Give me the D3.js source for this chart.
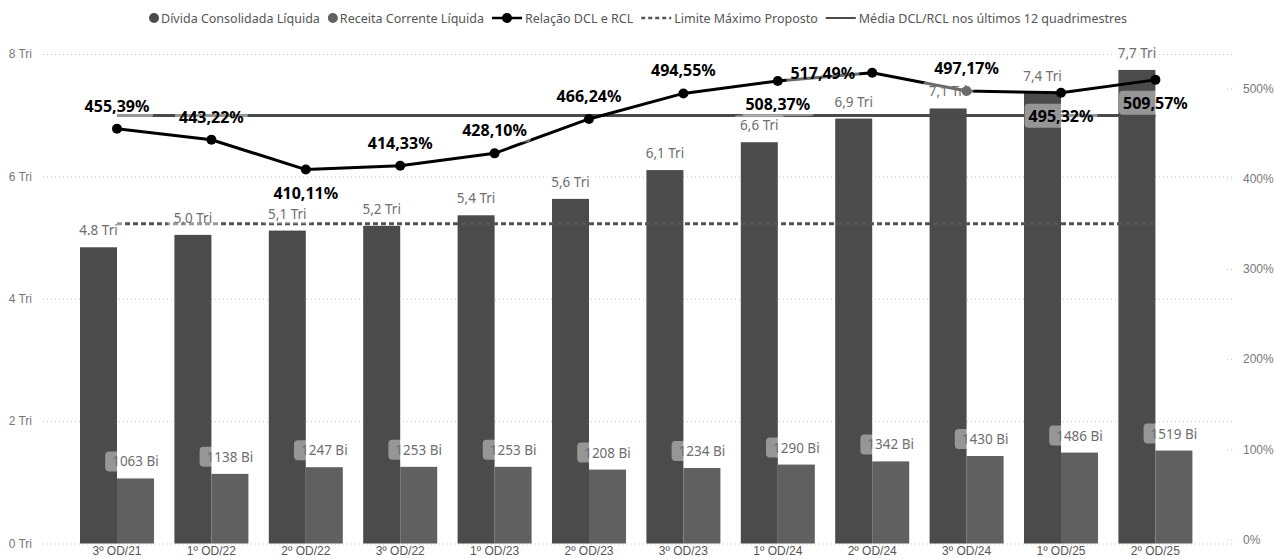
<!DOCTYPE html>
<html>
<head>
<meta charset="utf-8">
<script src="https://cdn.jsdelivr.net/npm/d3@7"></script>
<style>
  html, body { margin: 0; padding: 0; background: #fff; }
  svg { display: block; font-family: "Segoe UI", "Noto Sans", "Open Sans", sans-serif; }
</style>
</head>
<body>
<svg id="chart" width="1275" height="559"></svg>
<script>
// Quadrimesters
const categories = ["3º OD/21", "1º OD/22", "2º OD/22", "3º OD/22", "1º OD/23", "2º OD/23",
                    "3º OD/23", "1º OD/24", "2º OD/24", "3º OD/24", "1º OD/25", "2º OD/25"];
// Dívida Consolidada Líquida (R$ bilhões)
const dclBi = [4841, 5044, 5114, 5192, 5364, 5632, 6103, 6558, 6945, 7110, 7361, 7740];
const dclLabels = ["4.8 Tri", "5,0 Tri", "5,1 Tri", "5,2 Tri", "5,4 Tri", "5,6 Tri",
                   "6,1 Tri", "6,6 Tri", "6,9 Tri", "7,1 Tri", "7,4 Tri", "7,7 Tri"];
// Receita Corrente Líquida (R$ bilhões)
const rclBi = [1063, 1138, 1247, 1253, 1253, 1208, 1234, 1290, 1342, 1430, 1486, 1519];
// Relação DCL / RCL (%)
const ratioPct = [455.39, 443.22, 410.11, 414.33, 428.10, 466.24,
                  494.55, 508.37, 517.49, 497.17, 495.32, 509.57];
const limitePct = 350;      // Limite Máximo Proposto
const mediaPct = 469.99;    // Média DCL/RCL nos últimos 12 quadrimestres
const leftTicksTri = [0, 2, 4, 6, 8];
const rightTicksPct = [0, 100, 200, 300, 400, 500];

const legendItems = [
  { label: "Dívida Consolidada Líquida", type: "dot", color: "#4b4b4b" },
  { label: "Receita Corrente Líquida", type: "dot", color: "#606060" },
  { label: "Relação DCL e RCL", type: "lineDot", color: "#000" },
  { label: "Limite Máximo Proposto", type: "dash", color: "#555" },
  { label: "Média DCL/RCL nos últimos 12 quadrimestres", type: "line", color: "#4a4a4a" }
];

// where each ratio label sits relative to its point
const ratioLabelPos = ["above", "above", "below", "above", "above", "above",
                       "above", "below", "left", "above", "below", "below"];

const svg = d3.select("#chart");
const W = 1275;

const x = d3.scaleBand().domain(categories).range([69.8, 1202.6])
  .paddingInner(0.216).paddingOuter(0.108);
const xs = d3.scaleBand().domain(["dcl", "rcl"]).range([0, x.bandwidth()]);
const yL = d3.scaleLinear().domain([0, 8000]).range([543.5, 54]);
const yR = d3.scaleLinear().domain([0, 500]).range([539.5, 88.5]);

const gridLeft = 43, gridRight = 1233;

// left axis with dotted gridlines
const gL = svg.append("g").attr("transform", `translate(${gridLeft},0)`)
  .call(d3.axisLeft(yL).tickValues(leftTicksTri.map(d => d * 1000))
    .tickFormat(d => (d / 1000) + " Tri")
    .tickSize(-(gridRight - gridLeft)).tickPadding(11));
gL.select(".domain").remove();
gL.selectAll(".tick line").attr("stroke", "#c4c4c4").attr("stroke-dasharray", "1,3");
gL.selectAll(".tick text").attr("fill", "#777").style("font-size", "12px")
  .style("font-family", "inherit");

// right axis (percent)
const gR = svg.append("g").attr("transform", "translate(1227,0)")
  .call(d3.axisRight(yR).tickValues(rightTicksPct).tickFormat(d => d + "%")
    .tickSize(8).tickPadding(8));
gR.select(".domain").remove();
gR.selectAll(".tick line").attr("stroke", "#c4c4c4").attr("stroke-dasharray", "1,3");
gR.selectAll(".tick text").attr("fill", "#777").style("font-size", "12px")
  .style("font-family", "inherit");

// category axis
const gX = svg.append("g").attr("transform", "translate(0,543.5)")
  .call(d3.axisBottom(x).tickSize(0).tickPadding(3));
gX.select(".domain").remove();
gX.selectAll(".tick text").attr("fill", "#555").style("font-size", "12px")
  .style("font-family", "inherit");

// bars
const bars = svg.append("g");
bars.selectAll("rect.dcl").data(categories).join("rect")
  .attr("class", "dcl")
  .attr("x", (c) => x(c) + xs("dcl"))
  .attr("width", xs.bandwidth())
  .attr("y", (c, i) => yL(dclBi[i]))
  .attr("height", (c, i) => yL(0) - yL(dclBi[i]))
  .attr("fill", "#4b4b4b");
bars.selectAll("rect.rcl").data(categories).join("rect")
  .attr("class", "rcl")
  .attr("x", (c) => x(c) + xs("rcl"))
  .attr("width", xs.bandwidth())
  .attr("y", (c, i) => yL(rclBi[i]))
  .attr("height", (c, i) => yL(0) - yL(rclBi[i]))
  .attr("fill", "#606060");

const cx = c => x(c) + x.bandwidth() / 2;
const xFirst = cx(categories[0]), xLast = cx(categories[categories.length - 1]);

// reference lines
svg.append("line")
  .attr("x1", xFirst).attr("x2", xLast)
  .attr("y1", yR(limitePct)).attr("y2", yR(limitePct))
  .attr("stroke", "#555").attr("stroke-width", 3).attr("stroke-dasharray", "5,3");
svg.append("line")
  .attr("x1", xFirst).attr("x2", xLast)
  .attr("y1", yR(mediaPct)).attr("y2", yR(mediaPct))
  .attr("stroke", "#4a4a4a").attr("stroke-width", 3);

// ratio line
const line = d3.line().x((d, i) => cx(categories[i])).y(d => yR(d));
svg.append("path").datum(ratioPct)
  .attr("d", line).attr("fill", "none")
  .attr("stroke", "#000").attr("stroke-width", 3).attr("stroke-linejoin", "round");
svg.append("g").selectAll("circle").data(ratioPct).join("circle")
  .attr("cx", (d, i) => cx(categories[i]))
  .attr("cy", d => yR(d))
  .attr("r", 5).attr("fill", "#000");

// labels drawn on a translucent white box
const labels = svg.append("g");
function boxedLabel(px, py, text, o) {
  const g = labels.append("g");
  const t = g.append("text")
    .attr("x", px).attr("y", py)
    .attr("text-anchor", o.anchor || "middle")
    .attr("dominant-baseline", "central")
    .attr("fill", o.color)
    .style("font-size", o.size + "px")
    .style("font-weight", o.weight || "normal")
    .text(text);
  const b = t.node().getBBox();
  g.insert("rect", "text")
    .attr("x", b.x - o.padX).attr("y", b.y - o.padY)
    .attr("width", b.width + 2 * o.padX).attr("height", b.height + 2 * o.padY)
    .attr("rx", 4).attr("fill", "#fff").attr("fill-opacity", 0.42);
}

categories.forEach((c, i) => {
  boxedLabel(x(c) + xs("dcl") + xs.bandwidth() / 2, yL(dclBi[i]) - 17, dclLabels[i],
    { color: "#6e6e6e", size: 13.5, padX: 6, padY: 1 });
  boxedLabel(x(c) + xs("rcl") + xs.bandwidth() / 2, yL(rclBi[i]) - 17, rclBi[i] + " Bi",
    { color: "#6e6e6e", size: 13.5, padX: 7, padY: 1 });
});

const fmtPct = v => v.toFixed(2).replace(".", ",") + "%";
ratioPct.forEach((v, i) => {
  const px = cx(categories[i]), py = yR(v);
  const pos = ratioLabelPos[i];
  let lx = px, ly = py, anchor = "middle";
  if (pos === "above") ly = py - 23;
  else if (pos === "below") ly = py + 23;
  else { lx = px - 17; anchor = "end"; }
  boxedLabel(lx, ly, fmtPct(v),
    { color: "#000", size: 16, weight: "bold", padX: 4, padY: 1, anchor });
});

// legend
const leg = svg.append("g");
let cursor = 0;
const gap = 8;
legendItems.forEach(it => {
  const g = leg.append("g").attr("transform", `translate(${cursor},0)`);
  let mw;
  if (it.type === "dot") {
    g.append("circle").attr("cx", 5).attr("cy", 0).attr("r", 5).attr("fill", it.color);
    mw = 12;
  } else {
    const sw = 30;
    g.append("line").attr("x1", 0).attr("x2", sw).attr("y1", 0).attr("y2", 0)
      .attr("stroke", it.color).attr("stroke-width", it.type === "line" ? 2 : 2.5)
      .attr("stroke-dasharray", it.type === "dash" ? "4,3" : null);
    if (it.type === "lineDot") g.append("circle").attr("cx", sw / 2).attr("r", 5).attr("fill", it.color);
    mw = sw + 3;
  }
  const t = g.append("text").attr("x", mw).attr("y", 0)
    .attr("dominant-baseline", "central").attr("fill", "#555")
    .style("font-size", "12.5px").text(it.label);
  cursor += mw + t.node().getComputedTextLength() + gap;
});
const legW = cursor - gap;
leg.attr("transform", `translate(${(gridLeft + gridRight) / 2 - legW / 2},18)`);
</script>
</body>
</html>
